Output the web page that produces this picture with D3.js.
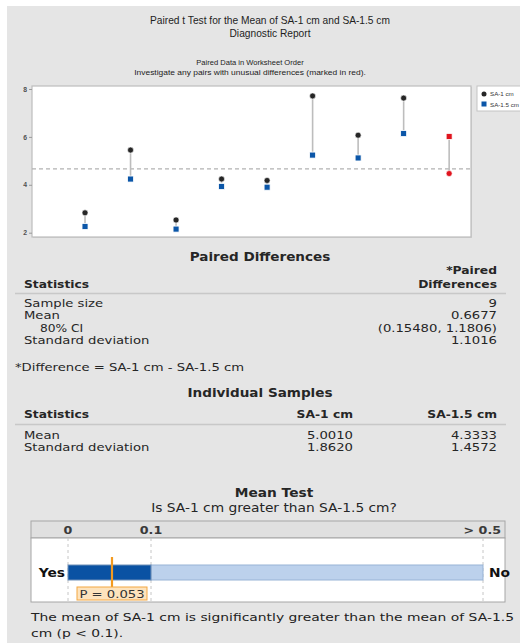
<!DOCTYPE html>
<html>
<head>
<meta charset="utf-8">
<script src="https://cdn.jsdelivr.net/npm/d3@7"></script>
<style>
  html, body { margin: 0; padding: 0; background: #ffffff; }
  svg { display: block; }
</style>
</head>
<body>
<svg id="chart" width="520" height="643"></svg>
<script>
// ---- Paired observations (worksheet order) ----
const pairIndex = [1, 2, 3, 4, 5, 6, 7, 8, 9];
const sa1 = [2.83, 5.45, 2.53, 4.24, 4.18, 7.71, 6.07, 7.62, 4.47];
const sa15 = [2.26, 4.24, 2.15, 3.93, 3.90, 5.24, 5.12, 6.14, 6.02];
const unusual = [false, false, false, false, false, false, false, false, true];
const overallMean = 4.667;
const yTicks = [2, 4, 6, 8];
const seriesNames = ["SA-1 cm", "SA-1.5 cm"];

// ---- Paired differences table ----
const pairedLabels = ["Sample size", "Mean", "80% CI", "Standard deviation"];
const pairedIndent = [false, false, true, false];
const pairedValues = ["9", "0.6677", "(0.15480, 1.1806)", "1.1016"];

// ---- Individual samples table ----
const indivLabels = ["Mean", "Standard deviation"];
const indivSA1 = ["5.0010", "1.8620"];
const indivSA15 = ["4.3333", "1.4572"];

// ---- Mean test ----
const pValue = 0.053;
const alpha = 0.1;
const pTicks = [0, 0.1, 0.5];
const pTickLabels = ["0", "0.1", "> 0.5"];

const svg = d3.select("#chart");
const BG = "#e5e5e5";
const TXT = "#262626";
const SANS = "'DejaVu Sans', Verdana, sans-serif";
const NARROW = "'Liberation Sans', Arial, sans-serif";

// Report text is set in a horizontally widened face: each label is placed
// with a translate and an x-only scale.
function label(g, x, y, str, o = {}) {
  return g.append("text")
    .attr("transform", `translate(${x},${y}) scale(${o.sx || 1},1)`)
    .attr("text-anchor", o.anchor || "start")
    .attr("font-family", o.family || SANS)
    .attr("font-size", o.size || 11)
    .attr("font-weight", o.bold ? "bold" : "normal")
    .attr("fill", o.fill || TXT)
    .text(str);
}

svg.append("rect").attr("x", 7).attr("y", 6).attr("width", 513).attr("height", 637).attr("fill", BG);

// ---- Titles ----
const head = svg.append("g");
label(head, 270, 24, "Paired t Test for the Mean of SA-1 cm and SA-1.5 cm", {anchor: "middle", family: NARROW, size: 10.2, fill: "#1e1e1e"});
label(head, 270, 37, "Diagnostic Report", {anchor: "middle", family: NARROW, size: 10.2, fill: "#1e1e1e"});
label(head, 250, 65, "Paired Data in Worksheet Order", {anchor: "middle", family: NARROW, size: 7.2, sx: 1.05, fill: "#222"});
label(head, 250, 75, "Investigate any pairs with unusual differences (marked in red).", {anchor: "middle", family: NARROW, size: 7.4, sx: 1.14, fill: "#222"});

// ---- Paired data plot ----
const x = d3.scaleLinear().domain([-0.165, 9.48]).range([32, 471]);
const y = d3.scaleLinear().domain([1.82, 8.125]).range([237, 86]);

const plot = svg.append("g");
plot.append("rect")
  .attr("x", x.range()[0] + 1).attr("y", y.range()[1] + 1)
  .attr("width", x.range()[1] - x.range()[0])
  .attr("height", y.range()[0] - y.range()[1])
  .attr("fill", "#d2d2d2");
plot.append("rect")
  .attr("x", x.range()[0]).attr("y", y.range()[1])
  .attr("width", x.range()[1] - x.range()[0])
  .attr("height", y.range()[0] - y.range()[1])
  .attr("fill", "#ffffff").attr("stroke", "#bdbdbd").attr("stroke-width", 1.2);

const yAxis = d3.axisLeft(y).tickValues(yTicks).tickSize(3).tickPadding(2).tickFormat(d3.format("d"));
const yg = plot.append("g").attr("transform", `translate(${x.range()[0]},0)`).call(yAxis);
yg.select(".domain").remove();
yg.selectAll(".tick line").attr("stroke", "#9a9a9a");
yg.selectAll(".tick text").attr("font-family", NARROW).attr("font-size", 6.8)
  .attr("font-weight", "bold").attr("fill", "#505050");

plot.append("line")
  .attr("x1", x.range()[0]).attr("x2", x.range()[1])
  .attr("y1", y(overallMean)).attr("y2", y(overallMean))
  .attr("stroke", "#b2b2b2").attr("stroke-width", 1.2).attr("stroke-dasharray", "4,3");

const pairs = pairIndex.map((p, i) => ({p, a: sa1[i], b: sa15[i], red: unusual[i]}));

plot.selectAll("line.link").data(pairs).join("line")
  .attr("class", "link")
  .attr("x1", d => x(d.p)).attr("x2", d => x(d.p))
  .attr("y1", d => y(d.a)).attr("y2", d => y(d.b))
  .attr("stroke", "#bdbdbd").attr("stroke-width", 1.6);

const sq = 6;
plot.selectAll("rect.b").data(pairs).join("rect")
  .attr("class", "b")
  .attr("x", d => x(d.p) - sq / 2).attr("y", d => y(d.b) - sq / 2)
  .attr("width", sq).attr("height", sq)
  .attr("fill", d => d.red ? "#e0141e" : "#0b56a8")
  .attr("stroke", "#ffffff").attr("stroke-width", 0.8);

plot.selectAll("circle.a").data(pairs).join("circle")
  .attr("class", "a")
  .attr("cx", d => x(d.p)).attr("cy", d => y(d.a)).attr("r", 3)
  .attr("fill", d => d.red ? "#e0141e" : "#262626")
  .attr("stroke", "#ffffff").attr("stroke-width", 0.6);

// legend
const lg = svg.append("g");
lg.append("rect").attr("x", 477).attr("y", 86).attr("width", 50).attr("height", 25)
  .attr("fill", "#ffffff").attr("stroke", "#c4c4c4").attr("stroke-width", 1);
lg.append("circle").attr("cx", 484).attr("cy", 94).attr("r", 2.5).attr("fill", "#262626");
lg.append("rect").attr("x", 481.5).attr("y", 101.5).attr("width", 5).attr("height", 5).attr("fill", "#0b56a8");
seriesNames.forEach((s, i) => label(lg, 490, 96.3 + i * 10.5, s, {family: NARROW, size: 6.2, fill: "#333"}));

// ---- Paired Differences table ----
const REG = {size: 11, sx: 1.2};
const HB = {size: 11, sx: 1.12, bold: true};
const tbl = svg.append("g");
label(tbl, 260, 261, "Paired Differences", {anchor: "middle", size: 11.5, sx: 1.18, bold: true});
label(tbl, 497, 274, "*Paired", {...HB, anchor: "end"});
label(tbl, 24, 288, "Statistics", HB);
label(tbl, 497, 288, "Differences", {...HB, anchor: "end"});
tbl.append("line").attr("x1", 15).attr("x2", 506).attr("y1", 293.5).attr("y2", 293.5)
  .attr("stroke", "#c8c8c8").attr("stroke-width", 1.5);
pairedLabels.forEach((lab, i) => {
  const yy = 307 + i * 12.3;
  label(tbl, pairedIndent[i] ? 40 : 24, yy, lab, {size: pairedIndent[i] ? 10.2 : 11, sx: 1.2});
  label(tbl, 497, yy, pairedValues[i], {...REG, anchor: "end"});
});
label(tbl, 15, 371, "*Difference = SA-1 cm - SA-1.5 cm", REG);

// ---- Individual Samples table ----
label(tbl, 260, 397, "Individual Samples", {anchor: "middle", size: 11.5, sx: 1.18, bold: true});
label(tbl, 24, 418, "Statistics", HB);
label(tbl, 353, 418, seriesNames[0], {...HB, anchor: "end"});
label(tbl, 497, 418, seriesNames[1], {...HB, anchor: "end"});
tbl.append("line").attr("x1", 15).attr("x2", 506).attr("y1", 424.5).attr("y2", 424.5)
  .attr("stroke", "#c8c8c8").attr("stroke-width", 1.5);
indivLabels.forEach((lab, i) => {
  const yy = 439 + i * 12.3;
  label(tbl, 24, yy, lab, REG);
  label(tbl, 353, yy, indivSA1[i], {...REG, anchor: "end"});
  label(tbl, 497, yy, indivSA15[i], {...REG, anchor: "end"});
});

// ---- Mean Test ----
const mt = svg.append("g");
label(mt, 274, 497, "Mean Test", {anchor: "middle", size: 12.5, sx: 1.1, bold: true});
label(mt, 274, 512, "Is SA-1 cm greater than SA-1.5 cm?", {anchor: "middle", size: 11.5, sx: 1.2});

const px = d3.scaleLinear().domain([0, 0.5]).range([68, 483]);
const boxL = 31, boxR = 505, boxT = 521, headB = 538, boxB = 602;
mt.append("rect").attr("x", boxL).attr("y", boxT).attr("width", boxR - boxL).attr("height", headB - boxT)
  .attr("fill", "#e0e0e0").attr("stroke", "#a6a6a6").attr("stroke-width", 1);
mt.append("rect").attr("x", boxL).attr("y", headB).attr("width", boxR - boxL).attr("height", boxB - headB)
  .attr("fill", "#ffffff").attr("stroke", "#a6a6a6").attr("stroke-width", 1);

mt.selectAll("line.pt").data(pTicks).join("line")
  .attr("class", "pt")
  .attr("x1", d => px(d)).attr("x2", d => px(d))
  .attr("y1", headB).attr("y2", boxB)
  .attr("stroke", "#c6c6c6").attr("stroke-width", 1).attr("stroke-dasharray", "3,3");
pTicks.forEach((t, i) => {
  const last = i === pTicks.length - 1;
  label(mt, last ? px(t) + 18 : px(t), 534, pTickLabels[i],
    {anchor: last ? "end" : "middle", size: 11, sx: 1.15, bold: true, fill: "#3a3a3a"});
});

const barT = 565, barH = 15;
mt.append("rect").attr("x", px(alpha)).attr("y", barT).attr("width", px(0.5) - px(alpha)).attr("height", barH)
  .attr("fill", "#bcd1ec").attr("stroke", "#98b3d6").attr("stroke-width", 1);
mt.append("rect").attr("x", px(0)).attr("y", barT).attr("width", px(alpha) - px(0)).attr("height", barH)
  .attr("fill", "#0a52a3").attr("stroke", "#6f8fb8").attr("stroke-width", 1);

label(mt, 65, barT + 12, "Yes", {anchor: "end", size: 12, sx: 1.15, bold: true, fill: "#111"});
label(mt, 489, barT + 12, "No", {size: 12, sx: 1.15, bold: true, fill: "#111"});

mt.append("line").attr("x1", px(pValue)).attr("x2", px(pValue))
  .attr("y1", 557).attr("y2", 595)
  .attr("stroke", "#f39a1f").attr("stroke-width", 2.2);
mt.append("rect").attr("x", 77).attr("y", 587).attr("width", 70).attr("height", 13)
  .attr("fill", "#fde3bd").attr("stroke", "#f4a742").attr("stroke-width", 1);
label(mt, 112, 597.5, "P = " + d3.format(".3f")(pValue), {anchor: "middle", size: 11, sx: 1.2, fill: "#333"});

label(mt, 31, 621, "The mean of SA-1 cm is significantly greater than the mean of SA-1.5", {size: 11.2, sx: 1.24, fill: "#222"});
label(mt, 31, 637, "cm (p < " + alpha + ").", {size: 11.2, sx: 1.24, fill: "#222"});
</script>
</body>
</html>
